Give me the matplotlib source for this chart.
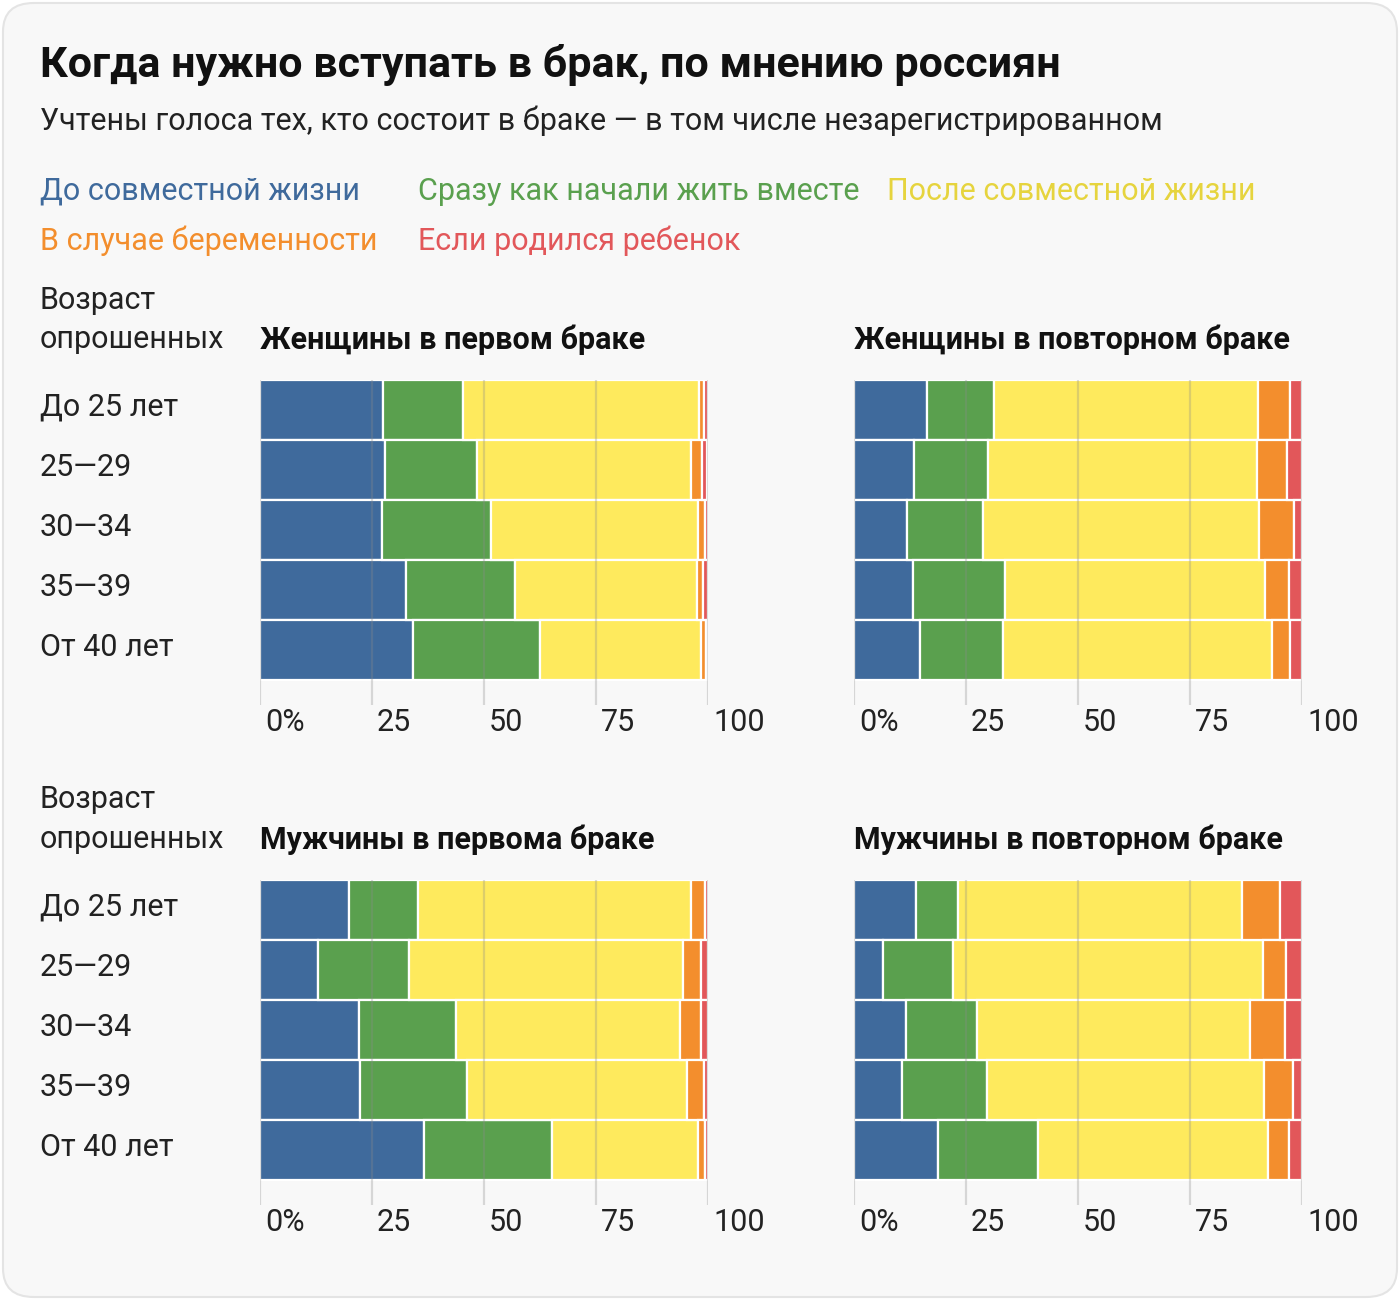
import numpy as np
import matplotlib
matplotlib.use("Agg")
import matplotlib.pyplot as plt
from matplotlib.patches import FancyBboxPatch
from matplotlib.transforms import ScaledTranslation

plt.rcParams['font.family'] = ['Roboto', 'DejaVu Sans']

W, H = 1400, 1300

# --- data ---
ages = ['До 25 лет', '25—29', '30—34', '35—39', 'От 40 лет']
categories = ['До совместной жизни', 'Сразу как начали жить вместе', 'После совместной жизни',
              'В случае беременности', 'Если родился ребенок']
colors = ['#3f6a9c', '#5aa04e', '#feea5d', '#f38e2d', '#e2575a']
text_colors = ['#3f6a9c', '#5aa04e', '#e6d43e', '#f38e2d', '#e2575a']

# shares, % ; rows follow ages, columns follow categories
women_first = [[27.4, 18.0, 52.6, 1.0, 1.0],
               [27.8, 20.7, 47.7, 2.5, 1.1],
               [27.2, 24.3, 46.3, 1.5, 0.6],
               [32.5, 24.4, 40.6, 1.4, 1.0],
               [34.1, 28.4, 35.9, 1.1, 0.3]]
women_repeat = [[16.3, 15.0, 58.9, 7.2, 2.6],
                [13.4, 16.6, 60.0, 6.7, 3.3],
                [11.8, 17.0, 61.6, 7.8, 1.8],
                [13.2, 20.4, 58.1, 5.3, 3.0],
                [14.8, 18.5, 60.0, 4.0, 2.6]]
men_first = [[19.9, 15.3, 60.9, 3.2, 0.7],
             [12.9, 20.3, 61.3, 4.0, 1.4],
             [22.2, 21.6, 50.0, 4.7, 1.4],
             [22.3, 23.9, 49.2, 3.7, 0.8],
             [36.5, 28.7, 32.6, 1.5, 0.6]]
men_repeat = [[13.9, 9.3, 63.4, 8.5, 4.8],
              [6.5, 15.6, 69.3, 5.0, 3.6],
              [11.5, 16.0, 60.9, 7.7, 3.9],
              [10.7, 19.0, 61.8, 6.5, 2.0],
              [18.8, 22.3, 51.3, 4.7, 2.9]]

ticks = [0, 25, 50, 75, 100]
tick_labels = ['0%', '25', '50', '75', '100']

fig = plt.figure(figsize=(W / 100, H / 100), dpi=100)
fig.patch.set_facecolor('white')

card = FancyBboxPatch((3 / W, 3 / H), 1 - 6 / W, 1 - 6 / H,
                      boxstyle='round,pad=0,rounding_size=0.022',
                      transform=fig.transFigure, facecolor='#f8f8f8',
                      edgecolor='#e4e4e4', linewidth=1.5, zorder=-10)
fig.patches.append(card)

FS = 22  # regular text size


def ftext(x, y, s, **kw):
    fig.text(x / W, 1 - y / H, s, va='center', ha='left', **kw)


ftext(40, 65, 'Когда нужно вступать в брак, по мнению россиян', fontsize=31, fontweight='bold', color='#111111')
ftext(40, 121, 'Учтены голоса тех, кто состоит в браке — в том числе незарегистрированном',
      fontsize=FS, color='#222222')

legend_pos = [(40, 191), (418, 191), (887, 191), (40, 241), (418, 241)]
for (lx, ly), cat, c in zip(legend_pos, categories, text_colors):
    ftext(lx, ly, cat, fontsize=FS, color=c)


def panel(x0, y0, data, title, show_ages):
    # axes spans bars (300 px) + 25 px of gridline tail
    ax = fig.add_axes([x0 / W, 1 - (y0 + 325) / H, 448 / W, 325 / H])
    ax.set_facecolor('none')
    arr = np.array(data)
    left = np.zeros(len(ages))
    for k in range(len(categories)):
        ax.barh(np.arange(len(ages)), arr[:, k], left=left, height=1.0,
                color=colors[k], edgecolor='white', linewidth=1.6, zorder=2)
        left += arr[:, k]
    for t in ticks:
        ax.axvline(t, color='#8a8a8a', alpha=0.3, lw=1.6, zorder=3)
    ax.set_xlim(0, 100)
    ax.set_ylim(4.5 + 25 / 60, -0.5)
    for s in ax.spines.values():
        s.set_visible(False)
    ax.set_xticks(ticks)
    ax.set_xticklabels(tick_labels, fontsize=FS, color='#222222')
    ax.tick_params(axis='x', length=0, pad=2)
    for lab in ax.get_xticklabels():
        lab.set_ha('left')
        lab.set_transform(lab.get_transform() + ScaledTranslation(5 / 100, 0, fig.dpi_scale_trans))
    if show_ages:
        ax.set_yticks(np.arange(len(ages)))
        ax.set_yticklabels(ages, fontsize=FS, color='#222222')
        ax.tick_params(axis='y', length=0, pad=220 * 0.72)
        for lab in ax.get_yticklabels():
            lab.set_ha('left')
            lab.set_va('center_baseline')
            lab.set_transform(lab.get_transform() + ScaledTranslation(0, 6 / 100, fig.dpi_scale_trans))
    else:
        ax.set_yticks([])
    ftext(x0, y0 - 40, title, fontsize=FS, fontweight='bold', color='#111111')
    return ax


for row_y in (380, 880):
    ftext(40, row_y - 80, 'Возраст', fontsize=FS, color='#222222')
    ftext(40, row_y - 40, 'опрошенных', fontsize=FS, color='#222222')

panel(260, 380, women_first, 'Женщины в первом браке', True)
panel(854, 380, women_repeat, 'Женщины в повторном браке', False)
panel(260, 880, men_first, 'Мужчины в первома браке', True)
panel(854, 880, men_repeat, 'Мужчины в повторном браке', False)

fig.savefig('out.png', dpi=100, facecolor=fig.get_facecolor())
